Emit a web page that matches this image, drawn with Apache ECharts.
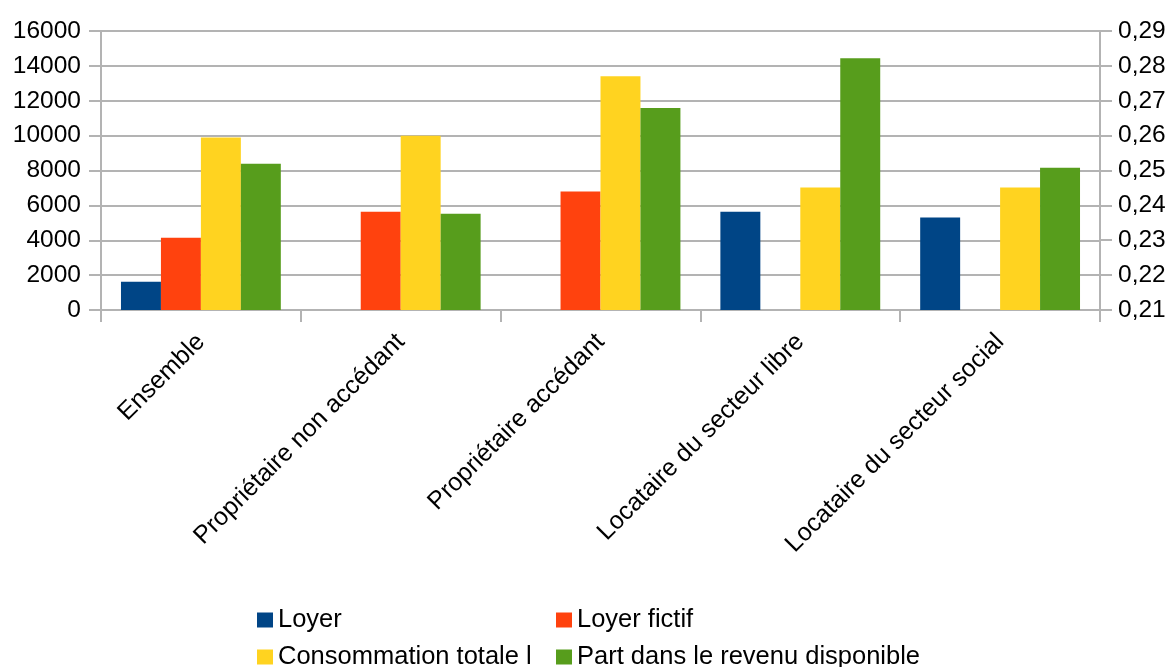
<!DOCTYPE html>
<html>
<head>
<meta charset="utf-8">
<script src="https://cdn.jsdelivr.net/npm/echarts@6/dist/echarts.min.js"></script>
<style>
html,body{margin:0;padding:0;background:#fff;}
#chart{width:1171px;height:667px;}
</style>
</head>
<body>
<div id="chart"></div>
<script>
const categories = ['Ensemble', 'Propriétaire non accédant', 'Propriétaire accédant', 'Locataire du secteur libre', 'Locataire du secteur social'];
const loyer = [1625, null, null, 5640, 5300];
const loyerFictif = [4150, 5640, 6790, null, null];
const consommation = [9890, 10000, 13400, 7020, 7020];
const partRevenu = [0.2519, 0.2376, 0.2679, 0.2822, 0.2508];
const seriesNames = ['Loyer', 'Loyer fictif', 'Consommation totale l', 'Part dans le revenu disponible'];
const colors = ['#004586', '#ff420e', '#ffd320', '#579d1c'];

const FONT = '"Liberation Sans", Arial, sans-serif';
const chart = echarts.init(document.getElementById('chart'));
const gridColor = '#b3b3b3';
const legendText = { fontFamily: FONT, fontSize: 25.5, color: '#000' };
const legendPos = [[257, 607], [556, 607], [257, 644], [556, 644]];

chart.setOption({
  animation: false,
  color: colors,
  textStyle: { fontFamily: FONT },
  grid: { left: 101, right: 71, top: 31, bottom: 357, containLabel: false },
  legend: seriesNames.map((n, i) => ({
    data: [n], left: legendPos[i][0], top: legendPos[i][1], padding: 0,
    itemWidth: 16, itemHeight: 15, icon: 'rect', textStyle: legendText
  })),
  xAxis: {
    type: 'category',
    data: categories,
    axisLine: { lineStyle: { color: gridColor, width: 2 } },
    axisTick: { show: true, length: 12, lineStyle: { color: gridColor, width: 2 } },
    axisLabel: { rotate: 45, margin: 28, fontSize: 25, color: '#000', fontFamily: FONT, interval: 0 }
  },
  yAxis: [
    {
      type: 'value', min: 0, max: 16000, interval: 2000,
      axisLine: { show: true, lineStyle: { color: gridColor, width: 2 } },
      axisTick: { show: true, length: 12, lineStyle: { color: gridColor, width: 2 } },
      splitLine: { show: true, lineStyle: { color: gridColor, width: 2 } },
      axisLabel: { margin: 20, fontSize: 24.5, color: '#000', fontFamily: FONT, formatter: v => String(v) }
    },
    {
      type: 'value', min: 0.21, max: 0.29, interval: 0.01, position: 'right',
      axisLine: { show: true, lineStyle: { color: gridColor, width: 2 } },
      axisTick: { show: true, length: 12, lineStyle: { color: gridColor, width: 2 } },
      splitLine: { show: false },
      axisLabel: { margin: 18, fontSize: 24.5, color: '#000', fontFamily: FONT,
        formatter: v => v.toFixed(2).replace('.', ',') }
    }
  ],
  series: [
    { name: seriesNames[0], type: 'bar', yAxisIndex: 0, data: loyer, barGap: '0%', barCategoryGap: '20%' },
    { name: seriesNames[1], type: 'bar', yAxisIndex: 0, data: loyerFictif, barGap: '0%', barCategoryGap: '20%' },
    { name: seriesNames[2], type: 'bar', yAxisIndex: 0, data: consommation, barGap: '0%', barCategoryGap: '20%' },
    { name: seriesNames[3], type: 'bar', yAxisIndex: 1, data: partRevenu, barGap: '0%', barCategoryGap: '20%', clip: true }
  ]
});
</script>
</body>
</html>
